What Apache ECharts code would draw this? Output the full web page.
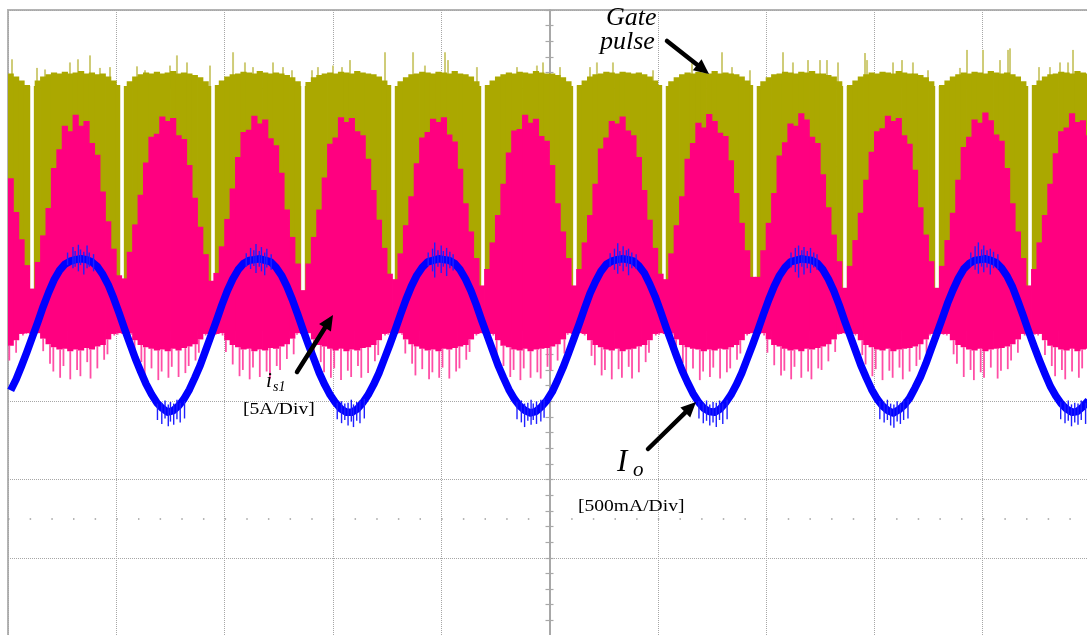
<!DOCTYPE html>
<html>
<head>
<meta charset="utf-8">
<script src="https://cdn.jsdelivr.net/npm/echarts@6/dist/echarts.min.js"></script>
<style>
  html, body { margin: 0; padding: 0; background: #ffffff; }
  #scope { width: 1087px; height: 635px; }
</style>
</head>
<body>
<div id="scope"></div>
<script>
// Oscilloscope capture: gate pulse, switch current i_s1 and output current I_o.
// Horizontal unit = 1 division (10 divisions), vertical unit = 1 division (8 divisions).

// Sampling grid of the traces (division units, sample centres).
const sampleStart = -4.975;
const sampleStep = 0.05;

// Gate pulse: top of the solid trace per sample.
const oliveTop = [
  3.19,3.15,3.10,3.04,3.03,3.10,3.15,3.18,3.20,3.19,
  3.21,3.19,3.20,3.22,3.19,3.20,3.18,3.19,3.15,3.10,
  3.04,3.03,3.09,3.15,3.18,3.20,3.19,3.21,3.19,3.20,
  3.22,3.19,3.20,3.19,3.17,3.14,3.09,3.03,3.04,3.10,
  3.15,3.18,3.19,3.21,3.20,3.19,3.22,3.20,3.19,3.20,
  3.19,3.17,3.14,3.09,3.03,3.08,3.14,3.17,3.19,3.20,
  3.19,3.21,3.20,3.19,3.22,3.20,3.19,3.18,3.15,3.10,
  3.04,3.03,3.09,3.14,3.18,3.19,3.21,3.20,3.19,3.21,
  3.20,3.19,3.22,3.19,3.18,3.15,3.09,3.03,3.04,3.10,
  3.15,3.18,3.20,3.19,3.21,3.20,3.19,3.22,3.20,3.19,
  3.19,3.17,3.14,3.09,3.03,3.04,3.10,3.15,3.18,3.19,
  3.21,3.20,3.19,3.21,3.20,3.19,3.20,3.18,3.15,3.10,
  3.04,3.03,3.09,3.14,3.18,3.20,3.19,3.21,3.20,3.19,
  3.22,3.19,3.20,3.19,3.18,3.15,3.10,3.04,3.03,3.09,
  3.14,3.18,3.19,3.21,3.20,3.19,3.21,3.20,3.22,3.19,
  3.19,3.17,3.15,3.09,3.03,3.04,3.10,3.15,3.18,3.20,
  3.19,3.21,3.20,3.19,3.22,3.20,3.19,3.19,3.17,3.14,
  3.09,3.03,3.04,3.10,3.15,3.18,3.20,3.19,3.21,3.20,
  3.19,3.22,3.20,3.19,3.20,3.18,3.15,3.09,3.03,3.04,
  3.10,3.15,3.18,3.19,3.21,3.20,3.19,3.22,3.20,3.19
];
const oliveBase = -0.1;

// Gate pulse: isolated overshoot spikes [time, top].
const gateSpikes = [
  [-4.963,3.37],[-4.732,3.26],[-4.658,3.24],[-4.428,3.33],[-4.354,3.37],[-4.243,3.42],
  [-4.151,3.26],[-4.058,3.27],[-3.809,3.28],[-3.735,3.23],[-3.504,3.29],[-3.440,3.42],
  [-3.347,3.33],[-3.135,3.29],[-2.922,3.46],[-2.812,3.33],[-2.738,3.27],[-2.553,3.33],
  [-2.461,3.27],[-2.378,3.23],[-2.193,3.23],[-2.138,3.27],[-1.999,3.29],[-1.916,3.27],
  [-1.842,3.36],[-1.519,3.46],[-1.260,3.46],[-1.150,3.29],[-0.965,3.46],[-0.937,3.36],
  [-0.670,3.27],[-0.300,3.27],[-0.116,3.29],[-0.060,3.33],[0.097,3.27],[0.374,3.27],
  [0.438,3.33],[0.586,3.33],[0.956,3.23],[1.316,3.32],[1.593,3.46],[1.685,3.27],
  [1.851,3.23],[2.156,3.46],[2.248,3.33],[2.387,3.36],[2.498,3.36],[2.562,3.36],
  [2.664,3.33],[2.913,3.45],[2.932,3.36],[3.172,3.33],[3.255,3.36],[3.356,3.33],
  [3.495,3.23],[3.790,3.26],[3.855,3.49],[4.003,3.49],[4.160,3.36],[4.234,3.49],
  [4.252,3.51],[4.520,3.27],[4.621,3.27],[4.714,3.33],[4.788,3.33],[4.834,3.49]
];

// Gate pulse: blanking instants between pulse groups.
const gateGaps = [-4.778,-3.947,-3.107,-2.276,-1.445,-0.614,0.235,1.057,1.897,2.728,3.578,4.437];

// Switch current i_s1: top, solid bottom and lowest ringing per sample.
const pinkTop = [
  1.85,1.42,1.07,0.74,0.44,0.78,1.12,1.47,1.98,2.22,
  2.52,2.45,2.66,2.52,2.58,2.30,2.15,1.68,1.30,0.95,
  0.61,0.57,0.91,1.26,1.64,2.05,2.38,2.42,2.64,2.58,
  2.62,2.40,2.35,2.02,1.60,1.23,0.88,0.54,0.64,0.98,
  1.33,1.72,2.12,2.44,2.47,2.65,2.55,2.60,2.36,2.27,
  1.92,1.45,1.10,0.76,0.42,0.76,1.10,1.45,1.86,2.29,
  2.37,2.63,2.57,2.62,2.45,2.40,2.10,1.70,1.32,0.96,
  0.63,0.56,0.89,1.25,1.62,2.04,2.37,2.44,2.61,2.57,
  2.63,2.41,2.32,1.97,1.53,1.17,0.83,0.48,0.69,1.03,
  1.38,1.78,2.18,2.46,2.48,2.66,2.56,2.61,2.39,2.33,
  2.02,1.53,1.17,0.83,0.48,0.69,1.03,1.38,1.78,2.23,
  2.37,2.58,2.55,2.64,2.46,2.40,2.12,1.70,1.32,0.96,
  0.63,0.56,0.89,1.25,1.62,2.10,2.30,2.56,2.50,2.67,
  2.58,2.43,2.39,2.08,1.66,1.28,0.93,0.59,0.59,0.93,
  1.28,1.66,2.14,2.31,2.55,2.52,2.68,2.60,2.38,2.30,
  1.90,1.48,1.13,0.79,0.45,0.73,1.06,1.41,1.83,2.19,
  2.45,2.49,2.65,2.58,2.62,2.40,2.29,1.96,1.48,1.13,
  0.79,0.45,0.73,1.06,1.41,1.83,2.25,2.38,2.60,2.56,
  2.69,2.59,2.41,2.33,1.98,1.53,1.17,0.83,0.48,0.69,
  1.03,1.38,1.78,2.17,2.45,2.50,2.68,2.57,2.59,2.40
];
const pinkBottom = [
  -0.29,-0.22,-0.14,-0.13,-0.14,-0.13,-0.20,-0.27,-0.31,-0.34,
  -0.33,-0.36,-0.34,-0.35,-0.32,-0.34,-0.30,-0.28,-0.21,-0.14,
  -0.13,-0.14,-0.13,-0.22,-0.28,-0.31,-0.33,-0.35,-0.34,-0.36,
  -0.33,-0.35,-0.32,-0.30,-0.27,-0.21,-0.14,-0.13,-0.14,-0.13,
  -0.22,-0.28,-0.31,-0.34,-0.33,-0.36,-0.34,-0.35,-0.32,-0.33,
  -0.30,-0.27,-0.20,-0.13,-0.14,-0.13,-0.21,-0.28,-0.30,-0.33,
  -0.35,-0.33,-0.36,-0.34,-0.35,-0.32,-0.31,-0.28,-0.22,-0.14,
  -0.13,-0.14,-0.13,-0.21,-0.27,-0.30,-0.33,-0.35,-0.34,-0.36,
  -0.33,-0.34,-0.32,-0.30,-0.28,-0.21,-0.14,-0.13,-0.14,-0.14,
  -0.22,-0.29,-0.31,-0.34,-0.35,-0.33,-0.36,-0.34,-0.33,-0.32,
  -0.30,-0.27,-0.21,-0.13,-0.14,-0.13,-0.14,-0.22,-0.28,-0.31,
  -0.34,-0.35,-0.33,-0.36,-0.34,-0.33,-0.30,-0.28,-0.22,-0.14,
  -0.13,-0.14,-0.13,-0.21,-0.28,-0.31,-0.33,-0.34,-0.36,-0.34,
  -0.35,-0.33,-0.34,-0.31,-0.28,-0.22,-0.14,-0.13,-0.14,-0.13,
  -0.21,-0.28,-0.30,-0.33,-0.35,-0.34,-0.36,-0.33,-0.34,-0.32,
  -0.30,-0.27,-0.21,-0.14,-0.13,-0.14,-0.14,-0.22,-0.28,-0.31,
  -0.34,-0.35,-0.33,-0.36,-0.34,-0.33,-0.32,-0.30,-0.27,-0.21,
  -0.14,-0.13,-0.14,-0.14,-0.22,-0.28,-0.31,-0.34,-0.35,-0.33,
  -0.36,-0.34,-0.33,-0.32,-0.30,-0.27,-0.21,-0.14,-0.13,-0.14,
  -0.14,-0.22,-0.29,-0.31,-0.34,-0.35,-0.33,-0.36,-0.34,-0.33
];
const pinkLow = [
  -0.48,-0.38,-0.16,-0.14,-0.15,-0.14,-0.36,-0.52,-0.62,-0.70,
  -0.55,-0.72,-0.60,-0.68,-0.50,-0.71,-0.58,-0.47,-0.40,-0.16,
  -0.15,-0.16,-0.15,-0.42,-0.50,-0.66,-0.58,-0.73,-0.62,-0.70,
  -0.56,-0.69,-0.64,-0.55,-0.48,-0.38,-0.16,-0.14,-0.15,-0.16,
  -0.37,-0.53,-0.68,-0.60,-0.72,-0.57,-0.69,-0.62,-0.71,-0.55,
  -0.60,-0.46,-0.40,-0.15,-0.14,-0.15,-0.38,-0.50,-0.63,-0.70,
  -0.58,-0.73,-0.61,-0.69,-0.55,-0.70,-0.64,-0.49,-0.41,-0.16,
  -0.15,-0.16,-0.15,-0.39,-0.52,-0.67,-0.59,-0.72,-0.63,-0.70,
  -0.57,-0.71,-0.62,-0.58,-0.47,-0.37,-0.16,-0.14,-0.15,-0.16,
  -0.40,-0.55,-0.69,-0.60,-0.73,-0.58,-0.70,-0.63,-0.71,-0.56,
  -0.61,-0.48,-0.39,-0.15,-0.14,-0.15,-0.16,-0.42,-0.54,-0.67,
  -0.60,-0.72,-0.59,-0.70,-0.56,-0.71,-0.63,-0.50,-0.38,-0.16,
  -0.15,-0.16,-0.15,-0.40,-0.51,-0.68,-0.58,-0.73,-0.62,-0.69,
  -0.57,-0.71,-0.63,-0.58,-0.47,-0.39,-0.16,-0.14,-0.15,-0.16,
  -0.38,-0.54,-0.67,-0.61,-0.72,-0.56,-0.70,-0.62,-0.72,-0.58,
  -0.60,-0.49,-0.37,-0.15,-0.14,-0.15,-0.16,-0.41,-0.53,-0.68,
  -0.59,-0.73,-0.61,-0.70,-0.57,-0.72,-0.62,-0.55,-0.47,-0.38,
  -0.16,-0.14,-0.15,-0.16,-0.40,-0.52,-0.69,-0.60,-0.73,-0.63,
  -0.70,-0.57,-0.71,-0.61,-0.59,-0.48,-0.38,-0.16,-0.14,-0.15,
  -0.16,-0.41,-0.55,-0.68,-0.60,-0.72,-0.62,-0.70,-0.58,-0.66
];

// Output current I_o per sample.
const ioTrace = [
  -0.86,-0.72,-0.55,-0.37,-0.18,0.01,0.21,0.39,0.55,0.67,
  0.75,0.79,0.81,0.82,0.81,0.78,0.72,0.62,0.49,0.32,
  0.13,-0.07,-0.26,-0.45,-0.62,-0.78,-0.91,-1.02,-1.09,-1.14,
  -1.12,-1.06,-0.97,-0.85,-0.70,-0.54,-0.35,-0.16,0.03,0.23,
  0.41,0.56,0.68,0.76,0.80,0.81,0.82,0.80,0.78,0.71,
  0.61,0.47,0.30,0.11,-0.09,-0.28,-0.46,-0.64,-0.79,-0.92,
  -1.02,-1.10,-1.14,-1.14,-1.10,-1.02,-0.92,-0.79,-0.64,-0.46,
  -0.28,-0.09,0.11,0.30,0.47,0.61,0.71,0.78,0.80,0.82,
  0.81,0.80,0.76,0.68,0.56,0.41,0.23,0.03,-0.16,-0.35,
  -0.54,-0.70,-0.85,-0.97,-1.06,-1.12,-1.15,-1.13,-1.07,-0.99,
  -0.88,-0.73,-0.57,-0.39,-0.20,-0.01,0.19,0.38,0.53,0.66,
  0.75,0.79,0.81,0.82,0.81,0.79,0.73,0.64,0.50,0.34,
  0.15,-0.05,-0.24,-0.43,-0.61,-0.76,-0.90,-1.01,-1.09,-1.13,
  -1.14,-1.10,-1.02,-0.92,-0.79,-0.64,-0.46,-0.28,-0.09,0.11,
  0.30,0.47,0.61,0.71,0.78,0.80,0.82,0.81,0.80,0.76,
  0.68,0.56,0.41,0.23,0.03,-0.16,-0.35,-0.54,-0.70,-0.85,
  -0.97,-1.06,-1.12,-1.15,-1.11,-1.05,-0.96,-0.83,-0.69,-0.52,
  -0.33,-0.14,0.05,0.25,0.42,0.57,0.69,0.76,0.80,0.81,
  0.82,0.80,0.77,0.70,0.60,0.46,0.28,0.09,-0.11,-0.30,
  -0.48,-0.65,-0.81,-0.93,-1.03,-1.10,-1.14,-1.13,-1.07,-0.99
];

// Output current: noise excursions at crests and troughs [time, low, high].
const ioSpikes = [
  [-4.45,0.74,0.90],[-4.40,0.70,0.97],[-4.38,0.72,0.92],[-4.35,0.66,1.00],[-4.33,0.74,0.94],[-4.30,0.62,0.91],[-4.27,0.70,0.99],[-4.25,0.72,0.90],[-4.21,0.66,0.88],
  [-2.80,0.72,0.89],[-2.76,0.69,0.96],[-2.73,0.73,0.93],[-2.71,0.64,1.01],[-2.68,0.72,0.92],[-2.66,0.66,0.97],[-2.63,0.61,0.90],[-2.61,0.71,0.95],[-2.57,0.68,0.88],
  [-1.12,0.73,0.90],[-1.08,0.66,0.95],[-1.06,0.58,1.03],[-1.03,0.72,0.93],[-1.00,0.64,0.99],[-0.98,0.72,0.92],[-0.95,0.60,0.96],[-0.92,0.70,0.91],[-0.89,0.67,0.88],
  [0.56,0.72,0.89],[0.60,0.68,0.95],[0.63,0.63,1.02],[0.65,0.73,0.92],[0.68,0.66,0.98],[0.71,0.72,0.93],[0.73,0.61,0.95],[0.76,0.70,0.90],[0.80,0.69,0.88],
  [2.23,0.71,0.90],[2.27,0.65,0.96],[2.30,0.58,0.99],[2.33,0.72,0.93],[2.35,0.62,0.97],[2.38,0.70,0.92],[2.41,0.64,0.96],[2.44,0.71,0.90],[2.47,0.68,0.88],
  [3.89,0.72,0.90],[3.93,0.68,0.98],[3.96,0.63,1.03],[3.99,0.72,0.94],[4.01,0.65,0.99],[4.04,0.71,0.93],[4.07,0.62,0.95],[4.10,0.70,0.91],[4.14,0.69,0.88],
  [-3.62,-1.24,-1.03],[-3.58,-1.29,-1.02],[-3.55,-1.22,-0.99],[-3.52,-1.32,-1.04],[-3.50,-1.26,-1.01],[-3.47,-1.30,-1.03],[-3.44,-1.23,-0.98],[-3.41,-1.27,-1.02],[-3.37,-1.22,-1.00],
  [-1.96,-1.23,-1.02],[-1.92,-1.28,-1.00],[-1.89,-1.24,-1.03],[-1.86,-1.31,-1.02],[-1.83,-1.26,-0.98],[-1.81,-1.33,-1.04],[-1.78,-1.25,-1.01],[-1.75,-1.28,-0.99],[-1.71,-1.22,-0.97],
  [-0.30,-1.23,-1.01],[-0.26,-1.27,-0.99],[-0.23,-1.33,-1.03],[-0.20,-1.25,-1.02],[-0.17,-1.30,-0.98],[-0.15,-1.24,-1.03],[-0.12,-1.29,-1.00],[-0.08,-1.26,-0.98],[-0.05,-1.21,-0.97],
  [1.38,-1.22,-1.00],[1.42,-1.28,-1.03],[1.45,-1.25,-0.99],[1.48,-1.31,-1.04],[1.51,-1.27,-1.01],[1.54,-1.33,-1.02],[1.57,-1.24,-0.99],[1.60,-1.29,-1.03],[1.64,-1.23,-0.98],
  [3.05,-1.23,-1.00],[3.09,-1.27,-1.02],[3.12,-1.24,-0.98],[3.15,-1.31,-1.03],[3.18,-1.34,-1.04],[3.21,-1.26,-1.00],[3.24,-1.29,-1.02],[3.27,-1.24,-0.98],[3.31,-1.22,-0.97],
  [4.72,-1.23,-1.01],[4.76,-1.28,-1.02],[4.79,-1.25,-0.99],[4.82,-1.32,-1.04],[4.85,-1.27,-1.02],[4.88,-1.30,-1.03],[4.91,-1.24,-0.99],[4.95,-1.29,-1.02],[4.99,-1.23,-0.98]
];

const times = oliveTop.map((_, i) => +(sampleStart + i * sampleStep).toFixed(3));

const COLOR_GATE = '#aba800';
const COLOR_GATE_SPIKE = '#cfcc78';
const COLOR_IS = '#ff0080';
const COLOR_IS_RING = '#ff4ea6';
const COLOR_IO = '#0000ff';
const GRID_COLOR = '#a6a6a6';
const SERIF = '"Liberation Serif", "DejaVu Serif", serif';

// Filled column for one sample, from value(1) up to value(2).
function columnRenderer(fill) {
  return function (params, api) {
    const x = api.value(0), lo = api.value(1), hi = api.value(2);
    const a = api.coord([x - sampleStep / 2, hi]);
    const b = api.coord([x + sampleStep / 2, lo]);
    return {
      type: 'rect',
      shape: { x: a[0] - 0.4, y: a[1], width: b[0] - a[0] + 0.8, height: b[1] - a[1] },
      style: { fill: fill }
    };
  };
}

// Thin vertical stroke at one instant, from value(1) to value(2);
// jitter shifts successive strokes slightly so the ringing does not look like a comb.
function strokeRenderer(stroke, width, jitter) {
  return function (params, api) {
    const x = api.value(0);
    const a = api.coord([x, api.value(1)]);
    const b = api.coord([x, api.value(2)]);
    const dx = jitter ? ((params.dataIndex * 7) % 5 - 2) * jitter : 0;
    return {
      type: 'line',
      shape: { x1: a[0] + dx, y1: a[1], x2: b[0] + dx, y2: b[1] },
      style: { stroke: stroke, lineWidth: width }
    };
  };
}

// Blank gap in the gate trace.
function gapRenderer(params, api) {
  const x = api.value(0);
  const a = api.coord([x, api.value(2)]);
  const b = api.coord([x, api.value(1)]);
  return {
    type: 'rect',
    shape: { x: a[0] - 1.8, y: a[1], width: 3.6, height: b[1] - a[1] },
    style: { fill: '#ffffff' }
  };
}

// Arrow drawn as a shaft plus a solid head.
function arrow(sx, sy, tx, ty) {
  const dx = tx - sx, dy = ty - sy, len = Math.hypot(dx, dy);
  const ux = dx / len, uy = dy / len, nx = -uy, ny = ux;
  const L = 15, W = 7;
  const bx = tx - ux * L, by = ty - uy * L;
  return [
    { type: 'line', z: 100, shape: { x1: sx, y1: sy, x2: bx + ux * 2, y2: by + uy * 2 },
      style: { stroke: '#000', lineWidth: 4.5, lineCap: 'round' } },
    { type: 'polygon', z: 100, shape: { points: [[tx, ty], [bx + nx * W, by + ny * W], [bx - nx * W, by - ny * W]] },
      style: { fill: '#000' } }
  ];
}

function label(text, x, y, size, italic, scaleX) {
  return {
    type: 'text', z: 100, x: x, y: y, scaleX: scaleX || 1,
    style: {
      text: text, fill: '#000',
      font: (italic ? 'italic ' : '') + size + 'px ' + SERIF,
      verticalAlign: 'middle', align: 'left'
    }
  };
}

const hiddenAxisParts = {
  axisLabel: { show: false },
  axisTick: { show: false }
};
const dotted = { show: true, lineStyle: { color: GRID_COLOR, type: 'dotted', width: 1 } };

const centreAxis = (inside) => ({
  type: 'value', min: -4, max: 4, interval: 1,
  position: 'left', offset: -541.5,
  axisLine: { show: !inside, onZero: false, lineStyle: { color: '#a8a8a8', width: 2 } },
  axisTick: { show: true, inside: inside, length: 4, lineStyle: { color: '#a8a8a8', width: 1.2 } },
  minorTick: { show: true, splitNumber: 5, length: 4, lineStyle: { color: '#a8a8a8', width: 1.2 } },
  axisLabel: { show: false },
  splitLine: { show: false }
});

const option = {
  animation: false,
  backgroundColor: '#ffffff',
  grid: {
    left: 8, top: 10, width: 1083, height: 626,
    outerBoundsMode: 'none', containLabel: false,
    show: true, borderColor: '#b4b4b4', borderWidth: 2, backgroundColor: 'transparent'
  },
  xAxis: [{
    type: 'value', min: -5, max: 5, interval: 1,
    axisLine: { show: false, onZero: false },
    splitLine: dotted, ...hiddenAxisParts
  }],
  yAxis: [
    { type: 'value', min: -4, max: 4, interval: 1,
      axisLine: { show: false, onZero: false },
      splitLine: dotted, ...hiddenAxisParts },
    centreAxis(false),
    centreAxis(true)
  ],
  series: [
    { // gate pulse overshoot spikes
      type: 'custom', name: 'Gate pulse spikes', z: 2, clip: true,
      renderItem: strokeRenderer(COLOR_GATE_SPIKE, 2, 0),
      encode: { x: 0, y: [1, 2] },
      data: gateSpikes.map(([t, top]) => [t, 3.0, top])
    },
    { // gate pulse body
      type: 'custom', name: 'Gate pulse', z: 3, clip: true,
      renderItem: columnRenderer(COLOR_GATE),
      encode: { x: 0, y: [1, 2] },
      data: times.map((t, i) => [t, oliveBase, oliveTop[i]])
    },
    { // blanking gaps between gate pulse groups
      type: 'custom', name: 'Gate gaps', z: 4, clip: true,
      renderItem: gapRenderer,
      encode: { x: 0, y: [1, 2] },
      data: gateGaps.map(t => [t, oliveBase, 3.6])
    },
    { // i_s1 ringing below the solid band
      type: 'custom', name: 'is1 ringing', z: 5, clip: true,
      renderItem: strokeRenderer(COLOR_IS_RING, 1.8, 0.7),
      encode: { x: 0, y: [1, 2] },
      data: times.map((t, i) => [t, pinkLow[i], pinkBottom[i]])
    },
    { // i_s1 body
      type: 'custom', name: 'is1', z: 6, clip: true,
      renderItem: columnRenderer(COLOR_IS),
      encode: { x: 0, y: [1, 2] },
      data: times.map((t, i) => [t, pinkBottom[i], pinkTop[i]])
    },
    { // output current
      type: 'line', name: 'Io', z: 7,
      showSymbol: false, symbol: 'none', smooth: false,
      lineStyle: { color: COLOR_IO, width: 7.5, join: 'round' },
      data: times.map((t, i) => [t, ioTrace[i]]),
      markLine: {
        silent: true, symbol: ['none', 'none'], label: { show: false },
        lineStyle: { color: '#a0a0a0', type: [1.5, 20.16], width: 1.5 },
        data: [{ yAxis: -2.5 }]
      }
    },
    { // output current noise
      type: 'custom', name: 'Io noise', z: 8, clip: true,
      renderItem: strokeRenderer('#1f1fff', 1.4, 0),
      encode: { x: 0, y: [1, 2] },
      data: ioSpikes
    }
  ],
  graphic: [
    label('Gate', 606, 18, 26, true),
    label('pulse', 600, 42, 26, true),
    ...arrow(667, 41, 709, 74),
    label('i', 266, 381, 21, true),
    label('s1', 273, 387, 14, true),
    label('[5A/Div]', 243, 410, 17, false, 1.15),
    ...arrow(297, 372, 333, 315),
    label('I', 617, 463, 31, true),
    label('o', 633, 470, 21, true),
    label('[500mA/Div]', 578, 507, 17, false, 1.15),
    ...arrow(648, 449, 696, 402)
  ]
};

const chart = echarts.init(document.getElementById('scope'), null, { renderer: 'canvas' });
chart.setOption(option);
</script>
</body>
</html>
